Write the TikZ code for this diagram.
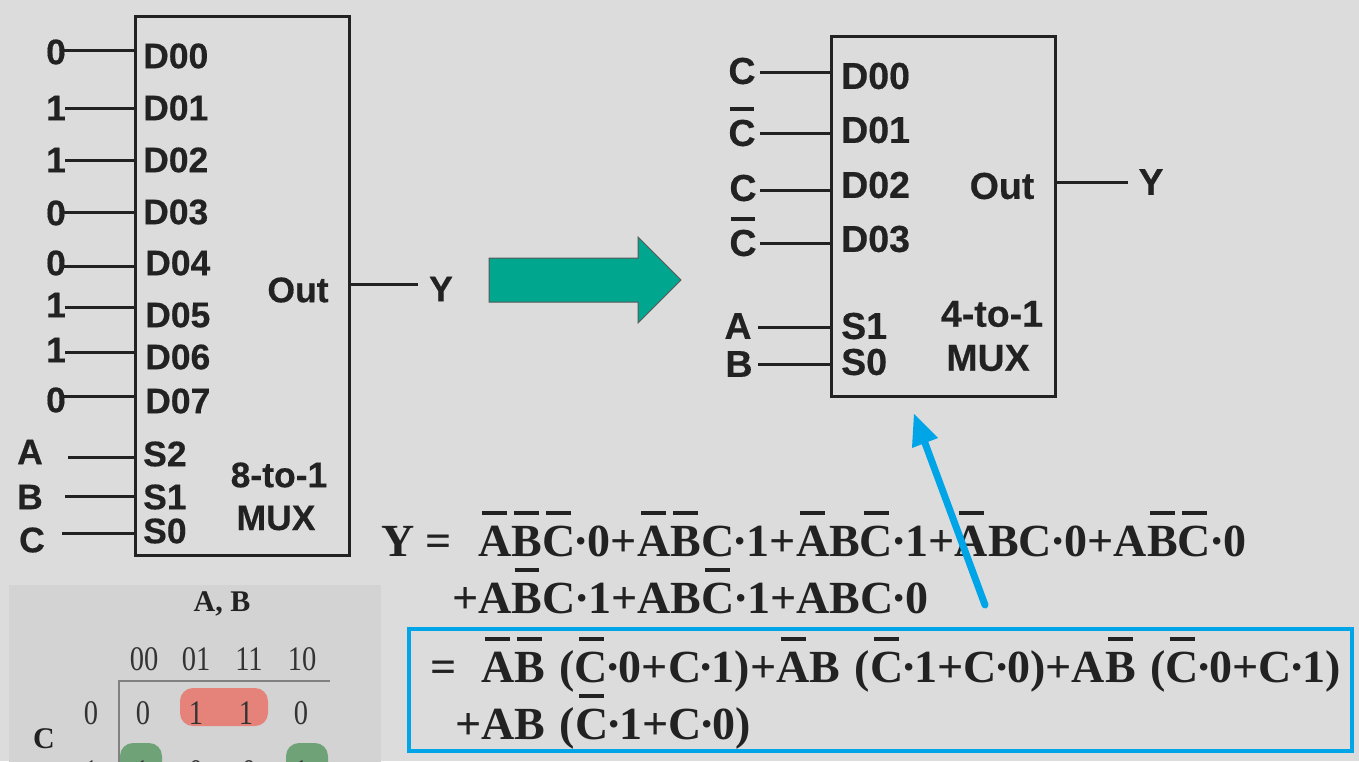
\documentclass[tikz,border=0pt]{standalone}
\usepackage{fontspec}
\setmainfont{Liberation Serif}
\setsansfont[BoldFeatures={FakeBold=0.4}]{Liberation Sans}
\usetikzlibrary{arrows.meta}
\definecolor{bgc}{HTML}{DCDCDC}
\definecolor{panelc}{HTML}{D3D3D3}
\definecolor{ink}{HTML}{222222}
\definecolor{tealc}{HTML}{00A68E}
\definecolor{bluec}{HTML}{00A5E8}
\definecolor{redc}{HTML}{E58279}
\definecolor{greenc}{HTML}{6FA277}
\definecolor{mapline}{HTML}{808080}
\newcommand\ob[2][.9em]{\setbox0\hbox{#2}\makebox[\wd0]{\smash{\rule[#1]{.54em}{.085em}}}\kern-\wd0 \box0 }
\newcommand\obs[1]{\setbox0\hbox{#1}\makebox[\wd0]{\smash{\rule[.93em]{.65em}{.1em}}}\kern-\wd0 \box0 }
\newcommand\fdot{\kern-.03em\textperiodcentered\kern-.03em}
\newcommand\gdot{\kern-.05em\textperiodcentered\kern-.05em}
\newcommand\pgap{\kern.065em}
\tikzset{
  x=1pt,y=-1pt,
  wire/.style={draw=ink,line width=3pt},
  mux/.style={draw=ink,line width=3pt,inner sep=0pt,outer sep=0pt},
  sig/.style={font=\sffamily\bfseries\fontsize{35.5}{36}\selectfont,text=ink,inner sep=0pt},
  sigb/.style={font=\sffamily\bfseries\fontsize{37.5}{38}\selectfont,text=ink,inner sep=0pt},
  pinlab/.style={sig,anchor=west},
  pinlabb/.style={sigb,anchor=west},
  formula/.style={font=\bfseries\fontsize{46}{46}\selectfont,text=ink,inner sep=0pt,anchor=base west},
  mapnum/.style={font=\fontsize{30}{30}\selectfont,text=black!80,inner sep=0pt},
  mapblob/.style={rounded corners=13pt},
  maprule/.style={draw=mapline,line width=2pt}
}
\newcommand\mapdigit[1]{\scalebox{.95}[1.15]{#1}}
\begin{document}
\begin{tikzpicture}
\useasboundingbox (0,0) rectangle (1359,761);
\fill[bgc] (0,0) rectangle (1359,761);
% K-map
\begin{scope}
\clip (0,0) rectangle (1359,761);
\fill[panelc] (9,585) rectangle (381,770);
\fill[redc,mapblob] (180,688) rectangle (268,726);
\fill[greenc,mapblob] (120,743) rectangle (162,790);
\fill[greenc,mapblob] (286,743) rectangle (328,790);
\draw[maprule] (330,681) -- (119,681) -- (119,770);
\node[font=\bfseries\fontsize{30}{30}\selectfont,text=ink,inner sep=0pt] (kab) at (222,604) {A, B};
\node[font=\bfseries\fontsize{30}{30}\selectfont,text=ink,inner sep=0pt] (kc) at (44,739) {C};
\foreach \n/\t/\x/\y in {h1/00/144/659,h2/01/196/659,h3/11/249/659,h4/10/302/659,
  r0/0/91/713,c1/0/143/713,c2/1/196/713,c3/1/246/713,c4/0/301/713,
  r1/1/91/772,d1/1/142/772,d2/0/196/772,d3/0/249/772,d4/1/301/772}
  \node[mapnum] (k\n) at (\x,\y) {\mapdigit{\t}};
\end{scope}
% 8-to-1 MUX
\node[mux,minimum width=214pt,minimum height=539pt] (muxa) at (242,285.5) {};
\foreach \n/\l/\lx/\ly/\sx/\wy/\p/\px/\py in {
  a0/0/56/52/63/50/D00/143/56,
  a1/1/56/108/65/108/D01/143/108,
  a2/1/56/160/65/160/D02/143/160,
  a3/0/56/213/64/212/D03/143/212,
  a4/0/56/263/64/266/D04/145/263,
  a5/1/56/305/65/307/D05/145/315,
  a6/1/56/350/65/352/D06/145/357,
  a7/0/56/400/64/396/D07/145/401,
  a8/A/30/452/68/457/S2/143/454,
  a9/B/30/497/65/496/S1/143/497,
  a10/C/32/540/62/533/S0/143/531}{
  \node[sig] (\n) at (\lx,\ly) {\l};
  \node[pinlab] (\n p) at (\px,\py) {\p};
  \coordinate (\n s) at (\sx,\wy);
  \draw[wire] (\n s) -- (\n s -| muxa.west);
}
\node[sig] (aout) at (298,290) {Out};
\node[sig] (ay) at (441,289) {Y};
\node[sig] (aname) at (279,475) {8-to-1};
\node[sig] (amux) at (276,518) {MUX};
\coordinate (aoutend) at (418,284);
\draw[wire] (aoutend -| muxa.east) -- (aoutend);
% 4-to-1 MUX
\node[mux,minimum width=224pt,minimum height=360pt] (muxb) at (943,216) {};
\foreach \n/\l/\lx/\ly/\sx/\wy/\p/\px/\py in {
  b0/C/742/71/760/72/D00/841/76,
  b1/{\obs{C}}/742/133/760/133/D01/841/130,
  b2/C/743/188/760/190/D02/841/185,
  b3/{\obs{C}}/743/243/760/243/D03/841/239,
  b4/A/738/326/758/327/S1/841/326,
  b5/B/739/364/758/364/S0/841/362}{
  \node[sigb] (\n) at (\lx,\ly) {\l};
  \node[pinlabb] (\n p) at (\px,\py) {\p};
  \coordinate (\n s) at (\sx,\wy);
  \draw[wire] (\n s) -- (\n s -| muxb.west);
}
\node[sigb] (bout) at (1002,186) {Out};
\node[sigb] (by) at (1151,182) {Y};
\node[sigb] (bname) at (992,314) {4-to-1};
\node[sigb] (bmux) at (988,358) {MUX};
\coordinate (boutend) at (1128,182);
\draw[wire] (boutend -| muxb.east) -- (boutend);
% Teal arrow
\filldraw[fill=tealc,draw=black!65,line width=1pt]
  (489,258) -- (638,258) -- (638,237) -- (681,280) -- (638,323) -- (638,302) -- (489,302) -- cycle;
% Formula
\node[formula] (f1a) at (381,556) {Y =};
\node[formula] (f1b) at (478,556) {\ob{A}\ob{B}\ob{C}\fdot 0+\ob{A}\ob{B}C\fdot 1+\ob{A}B\ob{C}\fdot 1+\ob{A}BC\fdot 0+A\ob{B}\ob{C}\fdot 0};
\node[formula] (f2) at (452,613) {+A\ob{B}C\fdot 1+AB\ob{C}\fdot 1+ABC\fdot 0};
\node[formula] (f3a) at (430,682) {=};
\node[formula] (f3b) at (481,682) {\ob{A}\ob{B}\pgap{} (\ob{C}\gdot 0+C\gdot 1)+\ob{A}B\pgap{} (\ob{C}\gdot 1+C\gdot 0)+A\ob{B}\pgap{} (\ob{C}\gdot 0+C\gdot 1)};
\node[formula] (f4) at (455,739) {+AB\pgap{} (\ob{C}\gdot 1+C\gdot 0)};
% Blue box and arrow
\node[draw=bluec,line width=4pt,inner sep=0pt,outer sep=0pt,minimum width=943.5pt,minimum height=122.5pt] (bluebox) at (880.25,689.75) {};
\coordinate (btail) at (985,605);
\coordinate (btip) at (914,414);
\coordinate (bwingr) at (938,438);
\coordinate (bwingl) at (912,448);
\coordinate (bbase) at (925,443);
\draw[draw=bluec,line width=7pt,line cap=round] (btail) -- (bbase);
\fill[bluec] (btip) -- (bwingr) -- (bwingl) -- cycle;
\end{tikzpicture}
\end{document}
